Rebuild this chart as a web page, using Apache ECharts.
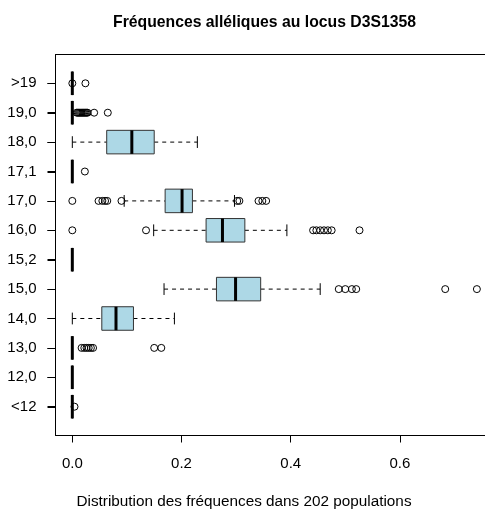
<!DOCTYPE html>
<html>
<head>
<meta charset="utf-8">
<script src="https://cdn.jsdelivr.net/npm/echarts@6/dist/echarts.min.js"></script>
<style>
  html, body { margin: 0; padding: 0; background: #fff; }
  #chart { width: 485px; height: 510px; }
</style>
</head>
<body>
<div id="chart"></div>
<script>
// allele categories, bottom to top
const categories = ['<12', '12,0', '13,0', '14,0', '15,0', '15,2', '16,0', '17,0', '17,1', '18,0', '19,0', '>19'];
const whiskerLow  = [0, 0, 0, 0,     0.168, 0, 0.149, 0.095, 0, 0,     0, 0];
const q1          = [0, 0, 0, 0.054, 0.264, 0, 0.245, 0.170, 0, 0.063, 0, 0];
const median      = [0, 0, 0, 0.080, 0.299, 0, 0.275, 0.201, 0, 0.109, 0, 0];
const q3          = [0, 0, 0, 0.112, 0.345, 0, 0.316, 0.220, 0, 0.150, 0, 0];
const whiskerHigh = [0, 0, 0, 0.187, 0.454, 0, 0.393, 0.297, 0, 0.229, 0, 0];
const outliers = [
  [0.004],
  [],
  [0.017, 0.022, 0.026, 0.030, 0.034, 0.038, 0.150, 0.163],
  [],
  [0.488, 0.500, 0.512, 0.520, 0.683, 0.741],
  [],
  [0, 0.135, 0.441, 0.447, 0.454, 0.461, 0.468, 0.475, 0.526],
  [0, 0.048, 0.055, 0.060, 0.064, 0.090, 0.302, 0.306, 0.341, 0.348, 0.355],
  [0.023],
  [],
  [0.008, 0.010, 0.012, 0.014, 0.016, 0.018, 0.020, 0.022, 0.024, 0.026, 0.028, 0.040, 0.065],
  [0, 0.024]
];
const xTicks = [0, 0.2, 0.4, 0.6];
const yTicks = categories.map((c, i) => i + 1); // R box positions 1..12

const font = 'Liberation Sans, Arial, sans-serif';

const boxData = categories.map((c, i) => [i, whiskerLow[i], q1[i], median[i], q3[i], whiskerHigh[i]]);
const outlierData = [];
outliers.forEach((vals, i) => vals.forEach(v => outlierData.push([v, i])));

function renderBox(params, api) {
  const i = api.value(0);
  const lo = api.coord([api.value(1), i]);
  const b1 = api.coord([api.value(2), i]);
  const md = api.coord([api.value(3), i]);
  const b3 = api.coord([api.value(4), i]);
  const hi = api.coord([api.value(5), i]);
  const h = api.size([0, 1])[1] * 0.8;
  const y = lo[1];
  const dash = { stroke: '#000', lineWidth: 1, lineDash: [4, 4] };
  const solid = { stroke: '#000', lineWidth: 1 };
  return {
    type: 'group',
    children: [
      { type: 'line', shape: { x1: lo[0], y1: y, x2: b1[0], y2: y }, style: dash },
      { type: 'line', shape: { x1: b3[0], y1: y, x2: hi[0], y2: y }, style: dash },
      { type: 'line', shape: { x1: lo[0], y1: y - h / 4, x2: lo[0], y2: y + h / 4 }, style: solid },
      { type: 'line', shape: { x1: hi[0], y1: y - h / 4, x2: hi[0], y2: y + h / 4 }, style: solid },
      { type: 'rect', shape: { x: b1[0], y: y - h / 2, width: b3[0] - b1[0], height: h },
        style: { fill: '#add8e6', stroke: '#333', lineWidth: 1 } },
      { type: 'line', shape: { x1: md[0], y1: y - h / 2, x2: md[0], y2: y + h / 2 },
        style: { stroke: '#000', lineWidth: 3 } }
    ]
  };
}

const chart = echarts.init(document.getElementById('chart'), null, { renderer: 'canvas' });
chart.setOption({
  animation: false,
  backgroundColor: '#fff',
  title: [
    {
      text: 'Fréquences alléliques au locus D3S1358',
      left: 259.5, top: 10, textAlign: 'center',
      textStyle: { fontFamily: font, fontSize: 15.75, fontWeight: 'bold', color: '#000' }
    },
    {
      text: 'Distribution des fréquences dans 202 populations',
      left: 239, top: 489, textAlign: 'center',
      textStyle: { fontFamily: font, fontSize: 15.3, fontWeight: 'normal', color: '#000' }
    }
  ],
  grid: [
    // frame, in R units 0.02 .. 12.98
    { left: 55.5, right: -11, top: 54.5, bottom: 74.5, show: true,
      borderColor: '#000', borderWidth: 1, backgroundColor: 'transparent', outerBoundsMode: 'none' },
    // data area
    { left: 55.5, right: -11, top: 68.6, bottom: 88.6, outerBoundsMode: 'none' }
  ],
  xAxis: [
    { gridIndex: 0, type: 'value', min: -0.0308, max: 0.776, show: false },
    {
      gridIndex: 1, type: 'value', min: -0.0308, max: 0.776, offset: 14.1,
      axisLine: { show: false, onZero: false },
      splitLine: { show: false },
      axisTick: { show: true, length: 7, lineStyle: { color: '#000' }, customValues: xTicks },
      axisLabel: {
        customValues: xTicks, margin: 21, color: '#000', fontFamily: font, fontSize: 15,
        formatter: v => v.toFixed(1)
      }
    }
  ],
  yAxis: [
    {
      gridIndex: 0, type: 'value', min: 0.02, max: 12.98, position: 'left',
      axisLine: { show: true, onZero: false, lineStyle: { color: '#000', width: 1 } },
      axisTick: { show: true, length: 8, customValues: yTicks, lineStyle: { color: '#000', width: 1 } },
      axisLabel: {
        customValues: yTicks, margin: 19, color: '#000', fontFamily: font, fontSize: 15,
        formatter: v => categories[Math.round(v) - 1]
      },
      splitLine: { show: false }
    },
    {
      gridIndex: 1, type: 'category', data: categories, show: false
    }
  ],
  series: [
    {
      type: 'custom',
      xAxisIndex: 1, yAxisIndex: 1,
      renderItem: renderBox,
      encode: { x: [1, 2, 3, 4, 5], y: 0 },
      data: boxData,
      clip: false
    },
    {
      type: 'scatter',
      xAxisIndex: 1, yAxisIndex: 1,
      symbol: 'circle', symbolSize: 7,
      itemStyle: { color: 'rgba(0,0,0,0)', borderColor: '#000', borderWidth: 1, opacity: 1 },
      data: outlierData,
      z: 3
    }
  ]
});

// y ticks on top of everything, placed through the frame axis scale
const frameLeft = chart.convertToPixel({ xAxisIndex: 0 }, -0.0308);
chart.setOption({
  graphic: yTicks.map(v => {
    const y = Math.round(chart.convertToPixel({ yAxisIndex: 0 }, v)) + 0.5;
    return {
      type: 'line', z: 100, silent: true,
      shape: { x1: frameLeft - 8, y1: y, x2: frameLeft, y2: y },
      style: { stroke: '#000', lineWidth: 1 }
    };
  })
});
</script>
</body>
</html>
